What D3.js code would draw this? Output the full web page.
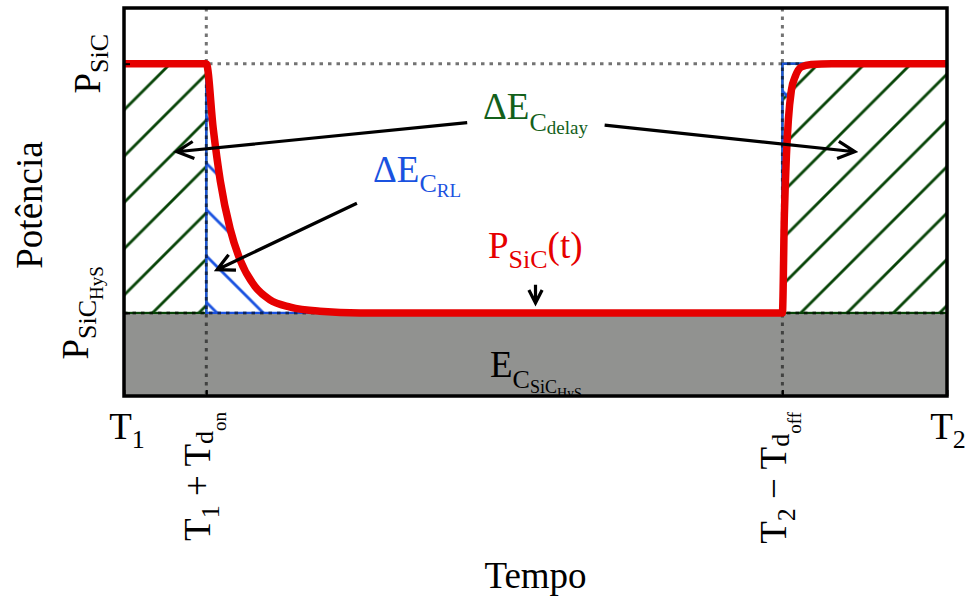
<!DOCTYPE html>
<html>
<head>
<meta charset="utf-8">
<script src="https://cdn.jsdelivr.net/npm/d3@7"></script>
<style>
  body { margin: 0; background: #fff; }
  text { font-family: "Liberation Serif", "DejaVu Serif", serif; white-space: pre; }
</style>
</head>
<body>
<script>
// time axis: T1 = 0 ... T2 = 10, power axis: P_SiC_HyS = 1, P_SiC = 4
var timeTicks = [0, 1, 8, 10];
var powerTicks = [1, 4];
var tOn = 1, tOff = 8;
var pHys = 1, pSiC = 4;

// P_SiC(t)
var curveT = [0, 1, 1.085, 1.17, 1.29, 1.41, 1.59, 1.77, 2.02, 2.38, 2.87, 8, 8.024, 8.049, 8.073, 8.109, 8.158, 8.23, 8.35, 8.6, 10];
var curveP = [4, 4, 3.21, 2.59, 2.01, 1.64, 1.32, 1.16, 1.07, 1.02, 1, 1, 2.18, 2.90, 3.33, 3.68, 3.85, 3.96, 3.99, 4, 4];

// annotation arrows (from -> to), in data units
var arrowFrom = [[4.17, 3.29], [5.84, 3.26], [2.83, 2.32], [5.0, 1.34]];
var arrowTo = [[0.64, 2.94], [8.88, 2.94], [1.13, 1.52], [5.0, 1.12]];

var width = 968, height = 598;
var red = "#e60000", green = "#074407", greenText = "#13601a", blue = "#1a52e0";

var x = d3.scaleLinear().domain([0, 10]).range([124, 947]);
var y = d3.scaleLinear().domain([0, 4.67]).range([396, 8]);

var curve = curveT.map(function(t, i) { return {t: t, p: curveP[i]}; });

var svg = d3.select("body").append("svg")
    .attr("width", width).attr("height", height);
var defs = svg.append("defs");

function hatch(id, color, up, x0) {
    var w = 46.3;
    var d = up
        ? "M0," + w + "L" + w + ",0M" + (-w / 2) + "," + (w / 2) + "L" + (w / 2) + "," + (-w / 2) + "M" + (w / 2) + "," + (1.5 * w) + "L" + (1.5 * w) + "," + (w / 2)
        : "M0,0L" + w + "," + w + "M" + (-w / 2) + "," + (w / 2) + "L" + (w / 2) + "," + (1.5 * w) + "M" + (w / 2) + "," + (-w / 2) + "L" + (1.5 * w) + "," + (w / 2);
    defs.append("pattern").attr("id", id)
        .attr("patternUnits", "userSpaceOnUse")
        .attr("x", x0).attr("y", 0).attr("width", w).attr("height", w)
      .append("path").attr("d", d)
        .attr("stroke", color).attr("stroke-width", 2.8).attr("fill", "none");
}
hatch("hG", green, true, 2.5);
hatch("hB", blue, false, 43);

defs.append("clipPath").attr("id", "plotClip")
  .append("rect").attr("x", x(0)).attr("y", y.range()[1])
    .attr("width", x(10) - x(0)).attr("height", y.range()[0] - y.range()[1]);

// E_C_SiC_HyS area
svg.append("rect")
    .attr("x", x(0)).attr("y", y(pHys))
    .attr("width", x(10) - x(0)).attr("height", y(0) - y(pHys))
    .attr("fill", "#919290");

// delay energy regions
[[0, tOn], [tOff, 10]].forEach(function(r) {
    svg.append("rect")
        .attr("x", x(r[0])).attr("y", y(pSiC))
        .attr("width", x(r[1]) - x(r[0])).attr("height", y(pHys) - y(pSiC))
        .attr("fill", "url(#hG)").attr("stroke", green).attr("stroke-width", 2.2);
});

// RL energy regions
var rlOn = curve.filter(function(d) { return d.t >= tOn && d.t <= 2.87; });
svg.append("path").datum(rlOn)
    .attr("d", d3.area().curve(d3.curveMonotoneX)
        .x(function(d) { return x(d.t); })
        .y0(y(pHys))
        .y1(function(d) { return y(d.p); }))
    .attr("fill", "url(#hB)").attr("stroke", blue).attr("stroke-width", 2.2);

var rlOff = curve.filter(function(d) { return d.t >= tOff && d.t <= 8.6; });
svg.append("path").datum(rlOff)
    .attr("d", d3.area().curve(d3.curveMonotoneX)
        .x(function(d) { return x(d.t); })
        .y0(y(pSiC))
        .y1(function(d) { return y(d.p); }))
    .attr("fill", "url(#hB)").attr("stroke", blue).attr("stroke-width", 2.2);

// dotted guide lines
var guides = svg.append("g")
    .attr("stroke", "#000").attr("stroke-opacity", 0.55)
    .attr("stroke-width", 3).attr("stroke-dasharray", "3.5,5");
[tOn, tOff].forEach(function(t) {
    guides.append("line").attr("x1", x(t)).attr("x2", x(t))
        .attr("y1", y.range()[1]).attr("y2", y.range()[0]);
});
powerTicks.forEach(function(p) {
    guides.append("line").attr("x1", x(0)).attr("x2", x(10))
        .attr("y1", y(p)).attr("y2", y(p));
});

// P_SiC(t)
svg.append("path").datum(curve)
    .attr("d", d3.line().curve(d3.curveMonotoneX)
        .x(function(d) { return x(d.t); })
        .y(function(d) { return y(d.p); }))
    .attr("fill", "none").attr("stroke", red).attr("stroke-width", 7.5);

// ticks (labels drawn by hand below)
svg.append("g").attr("transform", "translate(0," + y(0) + ")")
    .call(d3.axisBottom(x).tickValues(timeTicks).tickSize(-6).tickFormat(""))
    .call(function(g) { g.select(".domain").remove(); g.selectAll("line").attr("stroke-width", 2); });
svg.append("g").attr("transform", "translate(" + x(0) + ",0)")
    .call(d3.axisLeft(y).tickValues(powerTicks).tickSize(-6).tickFormat(""))
    .call(function(g) { g.select(".domain").remove(); g.selectAll("line").attr("stroke-width", 2); });

function mathText(parent, parts, anchor, color) {
    var t = parent.append("text").attr("text-anchor", anchor).attr("fill", color || "#000");
    var prev = 0;
    parts.forEach(function(p) {
        t.append("tspan").attr("font-size", p[1]).attr("dy", p[2] - prev).text(p[0]);
        prev = p[2];
    });
    return t;
}

// label in the gray area, clipped by the frame
mathText(svg.append("g").attr("clip-path", "url(#plotClip)"),
    [["E", 37, 0], ["C", 26, 11], ["SiC", 18, 16], ["HyS", 14, 21]], "start")
    .attr("x", x(4.447)).attr("y", y(0.229));

// frame
svg.append("rect")
    .attr("x", x(0)).attr("y", y.range()[1])
    .attr("width", x(10) - x(0)).attr("height", y.range()[0] - y.range()[1])
    .attr("fill", "none").attr("stroke", "#000").attr("stroke-width", 3.5);

// annotations
mathText(svg, [["ΔE", 37, 0], ["C", 26, 12], ["delay", 19, 15]], "start", greenText)
    .attr("x", x(4.362)).attr("y", y(3.334));
mathText(svg, [["ΔE", 37, 0], ["C", 26, 10], ["RL", 19, 15]], "start", blue)
    .attr("x", x(3.026)).attr("y", y(2.576));
mathText(svg, [["P", 37, 0], ["SiC", 26, 10], ["(t)", 37, 0]], "start", red)
    .attr("x", x(4.423)).attr("y", y(1.661));

arrowFrom.forEach(function(a, i) {
    var b = arrowTo[i];
    var x1 = x(a[0]), y1 = y(a[1]), x2 = x(b[0]), y2 = y(b[1]);
    var ang = Math.atan2(y1 - y2, x1 - x2);
    var len = Math.min(19, Math.hypot(x1 - x2, y1 - y2) * 0.8), h = 0.47;
    var d = "M" + x1 + "," + y1 + "L" + x2 + "," + y2 +
        "M" + (x2 + len * Math.cos(ang + h)) + "," + (y2 + len * Math.sin(ang + h)) +
        "L" + x2 + "," + y2 +
        "L" + (x2 + len * Math.cos(ang - h)) + "," + (y2 + len * Math.sin(ang - h));
    svg.append("path").attr("d", d)
        .attr("fill", "none").attr("stroke", "#000").attr("stroke-width", 3.2);
});

// tick labels
mathText(svg, [["T", 37, 0], ["1", 26, 9]], "middle")
    .attr("x", x(timeTicks[0]) + 3).attr("y", 439);
mathText(svg, [["T", 37, 0], ["2", 26, 9]], "middle")
    .attr("x", x(timeTicks[3]) + 1).attr("y", 439);
mathText(svg, [["T", 37, 0], ["1", 26, 9], [" + T", 37, 0], ["d", 26, 3], ["on", 19, 16]], "end")
    .attr("transform", "translate(" + (x(timeTicks[1]) + 4) + ",412) rotate(-90)");
mathText(svg, [["T", 37, 0], ["2", 26, 9], [" \u2212 T", 37, 0], ["d", 26, 3], ["off", 19, 15]], "end")
    .attr("transform", "translate(" + (x(timeTicks[2]) + 4) + ",412) rotate(-90)");

mathText(svg, [["P", 37, 0], ["SiC", 26, 8]], "middle")
    .attr("transform", "translate(100," + y(powerTicks[1]) + ") rotate(-90)");
mathText(svg, [["P", 37, 0], ["SiC", 26, 8], ["HyS", 19, 15]], "middle")
    .attr("transform", "translate(88," + y(powerTicks[0]) + ") rotate(-90)");

// axis titles
svg.append("text").attr("text-anchor", "middle").attr("font-size", 37)
    .attr("x", (x(0) + x(10)) / 2).attr("y", 588).text("Tempo");
svg.append("text").attr("text-anchor", "middle").attr("font-size", 37)
    .attr("transform", "translate(42,205) rotate(-90)").text("Potência");
</script>
</body>
</html>
